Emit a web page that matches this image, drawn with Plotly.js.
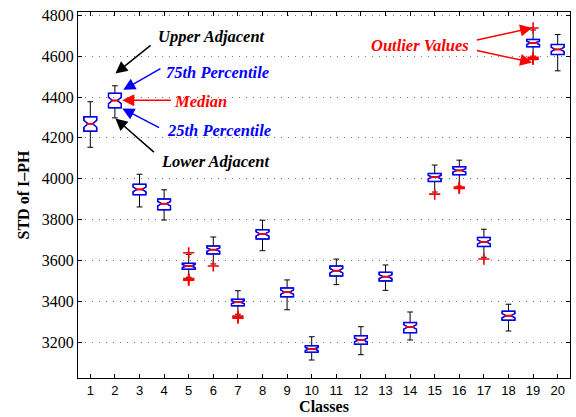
<!DOCTYPE html>
<html>
<head>
<meta charset="utf-8">
<script src="https://cdn.plot.ly/plotly-3.0.1.min.js"></script>
<style>html,body{margin:0;padding:0;background:#fff;}#chart{width:576px;height:417px;}</style>
</head>
<body>
<div id="chart"></div>
<script>
var classes = [1,2,3,4,5,6,7,8,9,10,11,12,13,14,15,16,17,18,19,20];
var lowerAdj = [4154,4298,3862,3798,3518,3583,3337,3648,3359,3113,3482,3139,3454,3211,3935,3964,3616,3255,4600,4528];
var q1Vals   = [4233,4347,3922,3848,3557,3632,3378,3705,3422,3151,3524,3190,3500,3247,3987,4020,3669,3308,4646,4608];
var medVals  = [4269,4383,3948,3878,3573,3653,3396,3730,3445,3167,3550,3211,3521,3275,4008,4041,3691,3330,4665,4633];
var q3Vals   = [4303,4418,3973,3901,3586,3671,3410,3751,3466,3183,3573,3232,3542,3296,4026,4059,3713,3352,4682,4657];
var upperAdj = [4377,4455,4022,3946,3630,3715,3452,3797,3505,3227,3607,3276,3578,3348,4067,4091,3753,3386,4728,4706];
var notchVals= [17,15,11,11,7,8,7,10,10,7,11,9,9,11,8,8,10,10,8,10];
var outlierX = [5,5,5,5,6,7,7,7,15,16,16,16,17,19,19,19,19];
var outlierY = [3638,3512,3508,3503,3573,3328,3322,3318,3925,3960,3956,3953,3607,4738,4594,4588,4584];
var yTicks = [3200,3400,3600,3800,4000,4200,4400,4600,4800];

var serif = '"Liberation Serif", "Times New Roman", serif';
var sans = '"Liberation Sans", Arial, sans-serif';

var whiskers = {
  type: 'box', x: classes, q1: q1Vals, median: medVals, q3: q3Vals,
  lowerfence: lowerAdj, upperfence: upperAdj, notched: true, notchspan: notchVals, notchwidth: 0.32,
  width: 0.52, whiskerwidth: 0.45, boxpoints: false,
  line: {color: '#000', width: 1}, fillcolor: 'rgba(0,0,0,0)', hoverinfo: 'skip', showlegend: false
};
var boxes = {
  type: 'box', x: classes, q1: q1Vals, median: medVals, q3: q3Vals,
  lowerfence: q1Vals, upperfence: q3Vals, notched: true, notchspan: notchVals, notchwidth: 0.32,
  width: 0.52, whiskerwidth: 0, boxpoints: false,
  line: {color: 'rgb(0,0,255)', width: 1.5}, fillcolor: 'rgba(0,0,0,0)', hoverinfo: 'skip', showlegend: false
};
var medians = {
  type: 'scatter', mode: 'markers', x: classes, y: medVals,
  marker: {symbol: 'line-ew', size: 6.1, color: 'rgb(255,0,0)', line: {color: 'rgb(255,0,0)', width: 1.8}},
  hoverinfo: 'skip', showlegend: false
};
var outliers = {
  type: 'scatter', mode: 'markers', x: outlierX, y: outlierY,
  marker: {symbol: 'cross-thin', size: 8, color: 'rgb(255,0,0)', line: {color: 'rgb(255,0,0)', width: 1.6}},
  hoverinfo: 'skip', showlegend: false
};

function label(text, x, y, color) {
  return {xref: 'x', yref: 'y', x: x, y: y, text: text, showarrow: false, xanchor: 'center', yanchor: 'middle',
          font: {family: serif, size: 16.5, color: color, weight: 'bold', style: 'italic'}};
}
function arrow(x, y, ax, ay, color) {
  return {xref: 'x', yref: 'y', x: x, y: y, ax: ax, ay: ay, text: '', showarrow: true,
          arrowhead: 2, arrowsize: 1.6, arrowwidth: 1.5, arrowcolor: color, standoff: 0, startstandoff: 0};
}

var annotations = [
  label('Upper Adjacent', 5.93, 4694, '#000'),
  arrow(2.02, 4515, 36.7, -29.3, '#000'),
  label('75th Percentile', 6.19, 4521, 'rgb(0,0,255)'),
  arrow(2.34, 4435, 38.7, -22, 'rgb(0,0,255)'),
  label('Median', 5.47, 4376, 'rgb(255,0,0)'),
  arrow(2.30, 4384, 50, 0, 'rgb(255,0,0)'),
  label('25th Percentile', 6.25, 4238, 'rgb(0,0,255)'),
  arrow(2.30, 4344, 38.3, 20, 'rgb(0,0,255)'),
  label('Lower Adjacent', 6.09, 4083, '#000'),
  arrow(2.02, 4295, 40, 35, '#000'),
  label('Outlier Values', 14.39, 4653, 'rgb(255,0,0)'),
  arrow(18.96, 4738, -56.7, 12.3, 'rgb(255,0,0)'),
  arrow(18.96, 4569, -56.7, -12.3, 'rgb(255,0,0)')
];

var layout = {
  width: 576, height: 417,
  margin: {l: 78, r: 6, t: 12, b: 39},
  paper_bgcolor: '#fff', plot_bgcolor: '#fff',
  boxmode: 'overlay',
  showlegend: false,
  xaxis: {
    range: [0.5, 20.5], tickmode: 'array', tickvals: classes, ticktext: classes.map(String),
    showgrid: false, zeroline: false, showline: true, mirror: 'ticks', linecolor: '#000', linewidth: 1,
    ticks: 'inside', ticklen: 4, tickcolor: '#000',
    tickfont: {family: sans, size: 13, color: '#000'},
    title: {text: 'Classes', font: {family: serif, size: 16, color: '#000', weight: 'bold'}, standoff: 4}
  },
  yaxis: {
    range: [3025, 4816], tickmode: 'array', tickvals: yTicks, ticktext: yTicks.map(String),
    showgrid: true, gridcolor: '#777', gridwidth: 1, griddash: '1px,6px',
    zeroline: false, showline: true, mirror: 'ticks', linecolor: '#000', linewidth: 1,
    ticks: 'inside', ticklen: 4, tickcolor: '#000',
    tickfont: {family: serif, size: 16, color: '#000'},
    title: {text: 'STD of I–PH', font: {family: serif, size: 16, color: '#000', weight: 'bold'}, standoff: 8}
  },
  annotations: annotations
};

Plotly.newPlot('chart', [whiskers, boxes, medians, outliers], layout, {displayModeBar: false, staticPlot: true});
</script>
</body>
</html>
